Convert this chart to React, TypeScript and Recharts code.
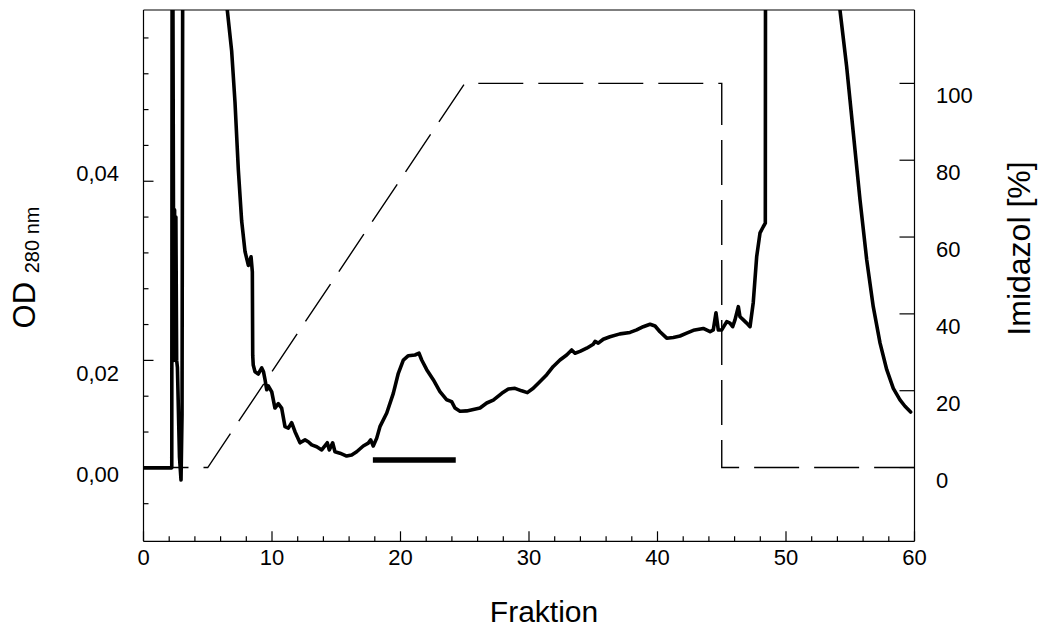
import { ComposedChart, Line, ReferenceLine, XAxis, YAxis } from "recharts";

const FONT = "'Liberation Sans', Arial, Helvetica, sans-serif";
const INK = "#000";

// OD trace: fraction number of each sample
const FRACTION = [
  0, 2.2, 2.23, 2.27, 2.36, 2.42, 2.48, 2.52, 2.58, 2.64,
  2.8, 2.92, 3.0, 3.06, 6.1, 6.19, 6.52, 6.86, 7.12, 7.38,
  7.64, 7.9, 8.16, 8.37, 8.47, 8.5, 8.54, 8.68, 8.93, 9.2,
  9.34, 9.46, 9.59, 9.71, 9.98, 10.23, 10.49, 10.75, 11.01, 11.27,
  11.53, 11.79, 12.18, 12.57, 12.82, 13.09, 13.48, 13.87, 14.3, 14.46,
  14.72, 14.9, 15.29, 15.81, 16.2, 16.59, 17.1, 17.49, 17.68, 17.88,
  18.15, 18.4, 18.93, 19.44, 19.83, 20.22, 20.61, 21.13, 21.44, 21.65,
  22.04, 22.55, 23.07, 23.6, 23.98, 24.24, 24.63, 25.15, 25.67, 26.19,
  26.71, 27.22, 27.88, 28.39, 28.91, 29.43, 29.87, 30.33, 30.86, 31.38,
  31.89, 32.41, 32.93, 33.32, 33.58, 33.97, 34.49, 35.0, 35.14, 35.39,
  35.78, 36.3, 37.08, 37.86, 38.38, 38.89, 39.42, 39.81, 40.19, 40.72,
  41.23, 41.75, 42.27, 42.79, 43.56, 44.09, 44.34, 44.55, 44.73, 45.0,
  45.39, 45.64, 45.85, 46.03, 46.29, 46.42, 46.68, 46.94, 47.2, 47.45,
  47.72, 47.98, 48.23, 48.39, 48.41, 53.6, 53.9, 54.2, 54.72, 55.24,
  55.76, 56.28, 56.79, 57.32, 57.84, 58.35, 58.87, 59.26, 59.7,
];

// OD 280 nm in left-axis tick steps (printed labels 0,00 / 0,02 / 0,04 sit at 0 / 3 / 8)
const OD_280 = [
  0, 0, 16, 16, 3.0, 7.2, 3.0, 7.0, 3.0, 2.8,
  0.3, -0.34, 1.5, 16, 16, 13.9, 12.78, 11.64, 10.21, 8.32,
  6.89, 6.04, 5.65, 5.89, 5.47, 3.13, 2.87, 2.68, 2.62, 2.79,
  2.68, 2.46, 2.18, 2.29, 2.12, 1.67, 1.79, 1.67, 1.15, 1.11,
  1.26, 1.01, 0.7, 0.78, 0.73, 0.64, 0.59, 0.5, 0.7, 0.5,
  0.7, 0.45, 0.41, 0.33, 0.36, 0.45, 0.61, 0.69, 0.78, 0.61,
  0.83, 1.15, 1.53, 2.08, 2.64, 3.01, 3.13, 3.15, 3.2, 3.01,
  2.74, 2.46, 2.13, 1.9, 1.85, 1.67, 1.58, 1.59, 1.63, 1.67,
  1.81, 1.89, 2.08, 2.2, 2.22, 2.15, 2.1, 2.22, 2.41, 2.6,
  2.83, 3.01, 3.15, 3.29, 3.2, 3.25, 3.34, 3.45, 3.53, 3.48,
  3.59, 3.66, 3.74, 3.78, 3.85, 3.94, 4.01, 3.96, 3.8, 3.62,
  3.64, 3.68, 3.76, 3.84, 3.89, 3.8, 3.85, 4.33, 3.85, 3.85,
  4.08, 4.04, 3.94, 4.13, 4.5, 4.22, 4.13, 4.04, 3.94, 4.61,
  5.9, 6.56, 6.73, 6.83, 16, 16, 14.5, 12.78, 11.2, 9.34,
  7.48, 5.81, 4.5, 3.48, 2.74, 2.22, 1.9, 1.72, 1.56,
];

// imidazol gradient (%)
const GRADIENT_FRACTION = [0, 5, 25, 45, 45, 60];
const GRADIENT_IMIDAZOL = [0, 0, 100, 100, 0, 0];

// pooled fractions bar
const POOL_FRACTION = [17.85, 24.3];
const POOL_LEVEL = [0.22, 0.22];

const X_TICKS = [0, 2, 4, 6, 8, 10, 12, 14, 16, 18, 20, 22, 24, 26, 28, 30, 32, 34, 36, 38, 40, 42, 44, 46, 48, 50, 52, 54, 56, 58, 60];
const OD_TICKS = [-1, 0, 1, 2, 3, 4, 5, 6, 7, 8, 9, 10, 11, 12];
const OD_LABELS: Record<number, string> = { 0: "0,00", 3: "0,02", 8: "0,04" };
const IMIDAZOL_TICKS = [0, 20, 40, 60, 80, 100];

const OD_DOMAIN: [number, number] = [-2.05, 12.78];
const IMIDAZOL_DOMAIN: [number, number] = [-19.2, 119.1];

const toSeries = (xs: number[], ys: number[]) => xs.map((x, i) => ({ x, y: ys[i] }));

const odData = toSeries(FRACTION, OD_280);
const gradientData = toSeries(GRADIENT_FRACTION, GRADIENT_IMIDAZOL);
const poolData = toSeries(POOL_FRACTION, POOL_LEVEL);

const textStyle = { fontFamily: FONT, fill: INK };

function XTick(props: any) {
  const { x, y, payload } = props;
  const v = payload.value;
  const major = v % 10 === 0;
  return (
    <g>
      <line x1={x} x2={x} y1={y} y2={y - (major ? 10 : 5)} stroke={INK} strokeWidth={1.2} />
      {major ? (
        <text x={x} y={y + 24} textAnchor="middle" fontSize={22} {...textStyle}>
          {v}
        </text>
      ) : null}
    </g>
  );
}

const OD_LABEL_SHIFT: Record<number, number> = { 0: 6, 3: 13, 8: -8 };

function OdTick(props: any) {
  const { x, y, payload } = props;
  const v = payload.value;
  const label = OD_LABELS[v];
  return (
    <g>
      <line x1={x} x2={x + (label ? 10 : 5)} y1={y} y2={y} stroke={INK} strokeWidth={1.2} />
      {label ? (
        <text x={x - 24.5} y={y + OD_LABEL_SHIFT[v] + 8} textAnchor="end" fontSize={22} {...textStyle}>
          {label}
        </text>
      ) : null}
    </g>
  );
}

function ImidazolTick(props: any) {
  const { x, y, payload } = props;
  return (
    <g>
      <line x1={x} x2={x - 15} y1={y} y2={y} stroke={INK} strokeWidth={1.2} />
      <text x={x + 21.5} y={y + 20} textAnchor="start" fontSize={22} {...textStyle}>
        {payload.value}
      </text>
    </g>
  );
}

export default function App() {
  return (
    <div style={{ position: "absolute", left: 0, top: 0, background: "#fff" }}>
      <ComposedChart width={1039} height={630} margin={{ top: 10, right: 0, bottom: 0, left: 0 }}>
        <XAxis
          dataKey="x"
          type="number"
          domain={[0, 60]}
          ticks={X_TICKS}
          interval={0}
          allowDataOverflow
          height={88.7}
          tickSize={0}
          tickMargin={0}
          tickLine={false}
          axisLine={{ stroke: INK, strokeWidth: 1.2 }}
          tick={XTick}
          label={{
            content: () => (
              <text x={544} y={622} textAnchor="middle" fontSize={30} {...textStyle}>
                Fraktion
              </text>
            ),
          }}
        />
        <YAxis
          yAxisId="od"
          orientation="left"
          type="number"
          domain={OD_DOMAIN}
          ticks={OD_TICKS}
          interval={0}
          allowDataOverflow
          width={143.5}
          tickSize={0}
          tickMargin={0}
          tickLine={false}
          axisLine={{ stroke: INK, strokeWidth: 1.2 }}
          tick={OdTick}
          label={{
            content: () => (
              <text x={35} y={267.5} transform="rotate(-90 35 267.5)" textAnchor="middle" {...textStyle}>
                <tspan fontSize={31}>{"OD\u00a0"}</tspan>
                <tspan fontSize={20} dy={4}>
                  280 nm
                </tspan>
              </text>
            ),
          }}
        />
        <YAxis
          yAxisId="imidazol"
          orientation="right"
          type="number"
          domain={IMIDAZOL_DOMAIN}
          ticks={IMIDAZOL_TICKS}
          interval={0}
          allowDataOverflow
          width={124.5}
          tickSize={0}
          tickMargin={0}
          tickLine={false}
          axisLine={{ stroke: INK, strokeWidth: 1.2 }}
          tick={ImidazolTick}
          label={{
            content: () => (
              <text
                x={1029.5}
                y={248.5}
                transform="rotate(-90 1029.5 248.5)"
                textAnchor="middle"
                fontSize={32}
                {...textStyle}
              >
                Imidazol [%]
              </text>
            ),
          }}
        />
        <ReferenceLine yAxisId="od" y={OD_DOMAIN[1]} stroke={INK} strokeWidth={1.2} ifOverflow="visible" />
        <Line
          yAxisId="imidazol"
          data={gradientData}
          dataKey="y"
          type="linear"
          stroke={INK}
          strokeWidth={1.4}
          strokeDasharray="45 15"
          dot={false}
          activeDot={false}
          isAnimationActive={false}
        />
        <Line
          yAxisId="od"
          data={odData}
          dataKey="y"
          type="linear"
          stroke={INK}
          strokeWidth={3.6}
          strokeLinejoin="round"
          strokeLinecap="round"
          dot={false}
          activeDot={false}
          isAnimationActive={false}
        />
        <Line
          yAxisId="od"
          data={poolData}
          dataKey="y"
          type="linear"
          stroke={INK}
          strokeWidth={5.3}
          strokeLinecap="butt"
          dot={false}
          activeDot={false}
          isAnimationActive={false}
        />
      </ComposedChart>
    </div>
  );
}
